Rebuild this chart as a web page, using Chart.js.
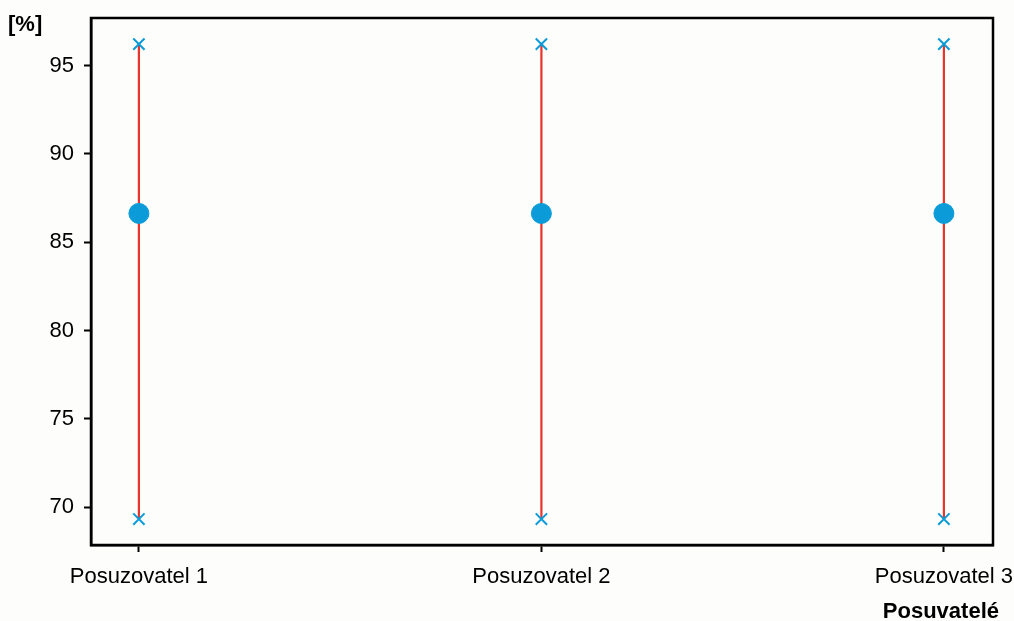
<!DOCTYPE html>
<html>
<head>
<meta charset="utf-8">
<script src="https://cdn.jsdelivr.net/npm/chart.js@4"></script>
<style>
  html, body { margin: 0; padding: 0; background: #fdfdfb; }
  canvas { display: block; }
</style>
</head>
<body>
<canvas id="graf" width="1014" height="621"></canvas>
<script>
const kategorie = ['Posuzovatel 1', 'Posuzovatel 2', 'Posuzovatel 3'];
const prumer = [86.63, 86.63, 86.63];
const maximum = [96.22, 96.22, 96.22];
const minimum = [69.32, 69.32, 69.32];
const yTicky = [70, 75, 80, 85, 90, 95];

const pismo = '"Liberation Sans", Arial, Helvetica, sans-serif';

// svisle usecky min-max, jedna na posuzovatele
const usecky = kategorie.map((k, i) => ({
  type: 'line',
  data: [{ x: i + 1, y: minimum[i] }, { x: i + 1, y: maximum[i] }],
  borderColor: '#e8352b',
  borderWidth: 2.2,
  pointRadius: 0,
  order: 3
}));

const ramecek = {
  id: 'ramecek',
  afterDraw(chart) {
    const { ctx, chartArea: a } = chart;
    ctx.save();
    ctx.strokeStyle = '#000';
    ctx.lineWidth = 2.5;
    ctx.strokeRect(a.left, a.top, a.right - a.left, a.bottom - a.top);
    ctx.fillStyle = '#000';
    ctx.font = 'bold 22px ' + pismo;
    ctx.textBaseline = 'middle';
    ctx.textAlign = 'left';
    ctx.fillText('[%]', 8, 25);
    ctx.textAlign = 'right';
    ctx.fillText('Posuvatelé', 999, 612);
    ctx.restore();
  }
};

new Chart(document.getElementById('graf'), {
  type: 'scatter',
  data: {
    datasets: [
      ...usecky,
      {
        label: 'Průměr',
        data: prumer.map((v, i) => ({ x: i + 1, y: v })),
        backgroundColor: '#0a9bd8',
        borderColor: '#0a9bd8',
        pointRadius: 10,
        order: 1
      },
      {
        label: 'Maximum',
        data: maximum.map((v, i) => ({ x: i + 1, y: v })),
        pointStyle: 'crossRot',
        borderColor: '#0a9bd8',
        borderWidth: 2,
        pointRadius: 8,
        order: 2
      },
      {
        label: 'Minimum',
        data: minimum.map((v, i) => ({ x: i + 1, y: v })),
        pointStyle: 'crossRot',
        borderColor: '#0a9bd8',
        borderWidth: 2,
        pointRadius: 8,
        order: 2
      }
    ]
  },
  options: {
    responsive: false,
    animation: false,
    layout: { padding: { top: 18, right: 21, bottom: 0, left: 0 } },
    plugins: { legend: { display: false }, tooltip: { enabled: false } },
    scales: {
      x: {
        type: 'linear',
        min: 0.881,
        max: 3.122,
        afterFit(s) { s.height = 76; s.paddingLeft = 0; s.paddingRight = 0; },
        afterBuildTicks(s) { s.ticks = kategorie.map((k, i) => ({ value: i + 1 })); },
        ticks: {
          callback: v => kategorie[v - 1],
          color: '#000',
          font: { family: pismo, size: 22 },
          padding: 12,
          maxRotation: 0,
          autoSkip: false
        },
        grid: { drawOnChartArea: false, drawTicks: true, tickLength: 7, color: '#000', tickWidth: 2 },
        border: { color: '#000', width: 2.5 }
      },
      y: {
        min: 67.85,
        max: 97.7,
        afterFit(s) { s.width = 91; s.paddingTop = 0; s.paddingBottom = 0; },
        afterBuildTicks(s) { s.ticks = yTicky.map(v => ({ value: v })); },
        ticks: {
          color: '#000',
          font: { family: pismo, size: 22 },
          padding: 10
        },
        grid: { drawOnChartArea: false, drawTicks: true, tickLength: 7, color: '#000', tickWidth: 2 },
        border: { color: '#000', width: 2.5 }
      }
    }
  },
  plugins: [ramecek]
});
</script>
</body>
</html>
